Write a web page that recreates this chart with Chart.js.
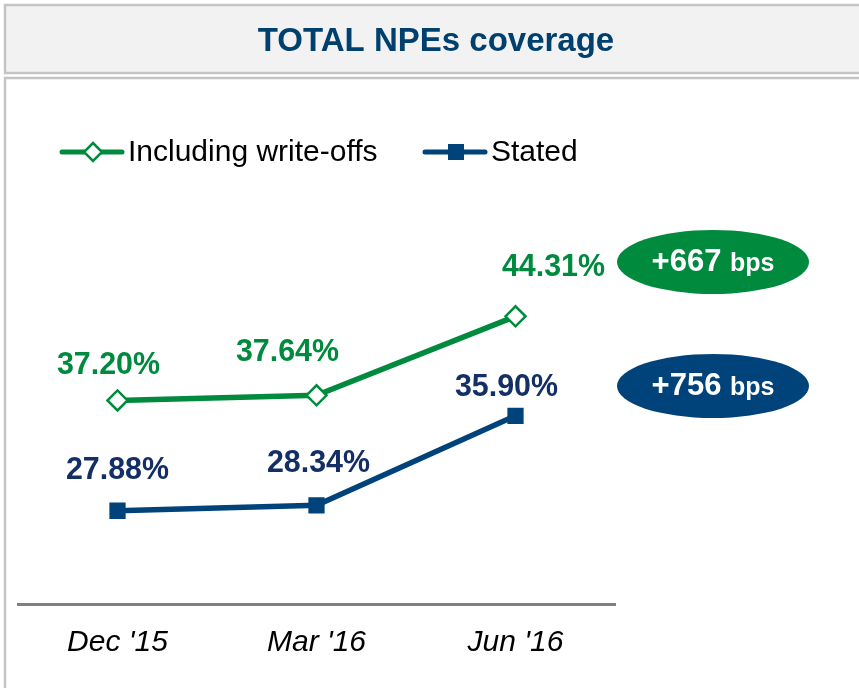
<!DOCTYPE html>
<html>
<head>
<meta charset="utf-8">
<script src="https://cdn.jsdelivr.net/npm/chart.js@4/dist/chart.umd.min.js"></script>
<style>
  body { margin: 0; background: #fff; }
  canvas { display: block; }
</style>
</head>
<body>
<canvas id="coverageChart" width="859" height="688"></canvas>
<script>
// Chart data
const periods = ["Dec '15", "Mar '16", "Jun '16"];
const inclWriteOffs = [37.20, 37.64, 44.31];
const stated = [27.88, 28.34, 35.90];
const seriesNames = ['Including write-offs', 'Stated'];
const chartTitle = 'TOTAL NPEs coverage';

const GREEN = '#008a3e';
const NAVY = '#00437a';
const NAVY_TEXT = '#132f66';
const FONT = '"Liberation Sans", Arial, sans-serif';

// draws text squeezed horizontally (the original looks slightly condensed)
function squeezedText(ctx, text, x, y, sx) {
    ctx.save();
    ctx.translate(x, y);
    ctx.scale(sx, 1);
    ctx.fillText(text, 0, 0);
    ctx.restore();
}

// Frame, title, legend, value labels and the bps bubbles
const decorations = {
    id: 'decorations',
    beforeDraw(chart) {
        const ctx = chart.ctx;
        ctx.save();
        // title box
        ctx.fillStyle = '#f2f2f2';
        ctx.fillRect(5, 5, 870, 68);
        ctx.strokeStyle = '#c4c4c4';
        ctx.lineWidth = 2.5;
        ctx.strokeRect(5, 5, 870, 68);
        // plot box
        ctx.strokeRect(5, 78, 870, 640);
        ctx.fillStyle = '#00406f';
        ctx.font = 'bold 33px ' + FONT;
        ctx.textAlign = 'center';
        ctx.textBaseline = 'alphabetic';
        squeezedText(ctx, chartTitle, 436, 51, 1.0);
        ctx.restore();
    },
    afterDatasetsDraw(chart) {
        const ctx = chart.ctx;
        ctx.save();

        // legend
        const legendItems = [
            { x: 62, color: GREEN, diamond: true },
            { x: 425, color: NAVY, diamond: false }
        ];
        legendItems.forEach((item, i) => {
            const y = 152;
            ctx.strokeStyle = item.color;
            ctx.lineWidth = 5;
            ctx.lineCap = 'round';
            ctx.beginPath();
            ctx.moveTo(item.x, y);
            ctx.lineTo(item.x + 60, y);
            ctx.stroke();
            const cx = item.x + 31;
            if (item.diamond) {
                ctx.fillStyle = '#fff';
                ctx.lineWidth = 2.5;
                ctx.beginPath();
                ctx.moveTo(cx, y - 9);
                ctx.lineTo(cx + 9, y);
                ctx.lineTo(cx, y + 9);
                ctx.lineTo(cx - 9, y);
                ctx.closePath();
                ctx.fill();
                ctx.stroke();
            } else {
                ctx.fillStyle = item.color;
                ctx.fillRect(cx - 8, y - 8, 16, 16);
            }
            ctx.fillStyle = '#000';
            ctx.font = '30px ' + FONT;
            ctx.textAlign = 'left';
            ctx.textBaseline = 'middle';
            squeezedText(ctx, seriesNames[i], item.x + 66, y + 1, 1.0);
        });

        // value labels
        const labelShift = [
            [[-9, -35], [-29, -43], [38, -49]],
            [[0, -41], [2, -42], [-9, -29]]
        ];
        const labelColors = [GREEN, NAVY_TEXT];
        ctx.font = 'bold 32px ' + FONT;
        ctx.textAlign = 'center';
        ctx.textBaseline = 'middle';
        chart.data.datasets.forEach((ds, d) => {
            const meta = chart.getDatasetMeta(d);
            meta.data.forEach((pt, i) => {
                ctx.fillStyle = labelColors[d];
                squeezedText(ctx, ds.data[i].toFixed(2) + '%', pt.x + labelShift[d][i][0], pt.y + labelShift[d][i][1], 0.95);
            });
        });

        // bps change bubbles (Mar '16 -> Jun '16)
        const bubbles = [
            { y: 262, color: GREEN, values: inclWriteOffs },
            { y: 386, color: NAVY, values: stated }
        ];
        bubbles.forEach(b => {
            const n = b.values.length;
            const bps = Math.round((b.values[n - 1] - b.values[n - 2]) * 100);
            ctx.fillStyle = b.color;
            ctx.beginPath();
            ctx.ellipse(713, b.y, 96, 32, 0, 0, Math.PI * 2);
            ctx.fill();
            ctx.fillStyle = '#fff';
            ctx.textBaseline = 'middle';
            ctx.textAlign = 'left';
            const big = '+' + bps;
            ctx.font = 'bold 31px ' + FONT;
            const w1 = ctx.measureText(big + ' ').width;
            ctx.font = 'bold 25px ' + FONT;
            const w2 = ctx.measureText('bps').width;
            const start = 713 - (w1 + w2) / 2;
            ctx.font = 'bold 31px ' + FONT;
            ctx.fillText(big, start, b.y);
            ctx.font = 'bold 25px ' + FONT;
            ctx.fillText('bps', start + w1, b.y + 2);
        });
        ctx.restore();
    }
};

const ctx = document.getElementById('coverageChart').getContext('2d');
const coverageChart = new Chart(ctx, {
    type: 'line',
    data: {
        labels: periods,
        datasets: [
            {
                label: seriesNames[0],
                data: inclWriteOffs,
                borderColor: GREEN,
                borderWidth: 5.5,
                pointStyle: 'rectRot',
                pointRadius: 10,
                pointBorderWidth: 2.5,
                pointBackgroundColor: '#fff',
                pointBorderColor: GREEN,
                tension: 0
            },
            {
                label: seriesNames[1],
                data: stated,
                borderColor: NAVY,
                borderWidth: 5.5,
                pointStyle: 'rect',
                pointRadius: 11.5,
                pointBorderWidth: 0,
                pointBackgroundColor: NAVY,
                pointBorderColor: NAVY,
                tension: 0
            }
        ]
    },
    options: {
        responsive: false,
        animation: false,
        layout: {
            padding: { left: 18, right: 244, top: 249, bottom: 14 }
        },
        plugins: {
            legend: { display: false },
            title: { display: false },
            tooltip: { enabled: false }
        },
        scales: {
            x: {
                offset: true,
                grid: { display: false },
                border: { display: true, color: '#808080', width: 3 },
                ticks: {
                    color: '#000',
                    padding: 13,
                    font: { family: FONT, size: 30, style: 'italic' }
                }
            },
            y: {
                display: false,
                min: 20,
                max: 50
            }
        }
    },
    plugins: [decorations]
});
</script>
</body>
</html>
